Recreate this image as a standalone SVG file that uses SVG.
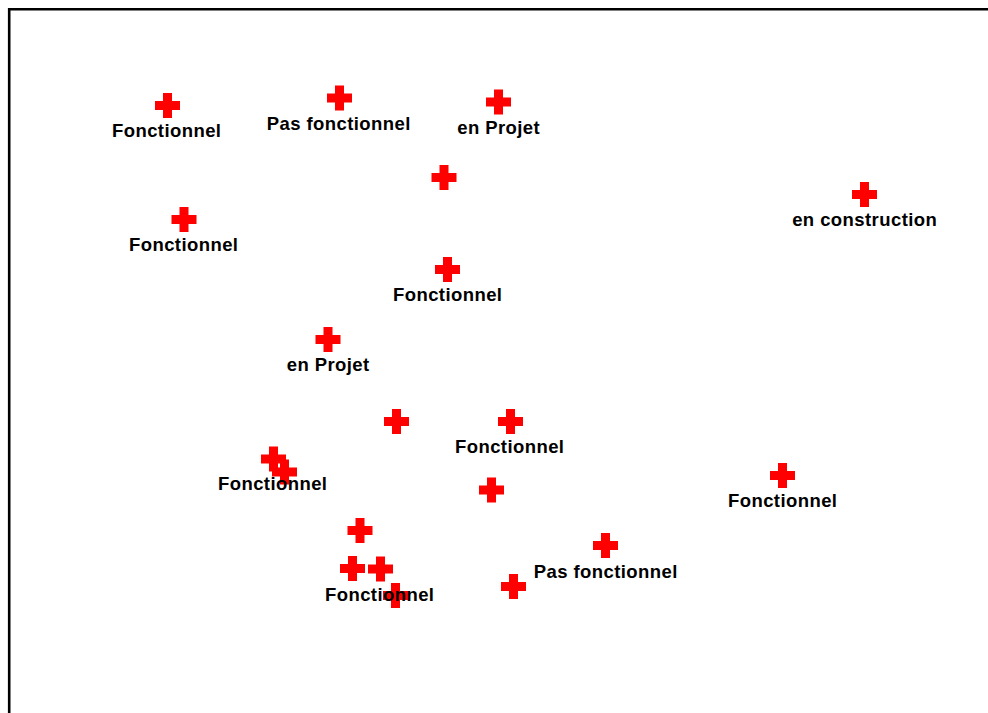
<svg xmlns="http://www.w3.org/2000/svg" xmlns:xlink="http://www.w3.org/1999/xlink" width="988" height="713" viewBox="0 0 988 713">
<style>
.x{fill:#ff0000}
.t{font-family:"Liberation Sans",Arial,sans-serif;font-weight:bold;font-size:18.5px;letter-spacing:0.42px;fill:#000;text-anchor:middle}
</style>
<defs>
<path id="c" d="M-4.5,-12.5H4.5V-4.5H12.5V4.5H4.5V12.5H-4.5V4.5H-12.5V-4.5H-4.5Z"/>
</defs>
<rect x="0" y="0" width="988" height="713" fill="#fff"/>
<path d="M9.2,713V9.2H988" fill="none" stroke="#000" stroke-width="2.6"/>
<g id="marks" class="x">
<use xlink:href="#c" x="167.5" y="105.5"/>
<use xlink:href="#c" x="339.5" y="98"/>
<use xlink:href="#c" x="498.5" y="102"/>
<use xlink:href="#c" x="444" y="177.5"/>
<use xlink:href="#c" x="864.5" y="194.5"/>
<use xlink:href="#c" x="184" y="219.5"/>
<use xlink:href="#c" x="447.5" y="269.5"/>
<use xlink:href="#c" x="328" y="339.5"/>
<use xlink:href="#c" x="396.5" y="421.5"/>
<use xlink:href="#c" x="510.5" y="421.5"/>
<use xlink:href="#c" x="273.5" y="459"/>
<use xlink:href="#c" x="284.5" y="472"/>
<use xlink:href="#c" x="491.5" y="490"/>
<use xlink:href="#c" x="782.5" y="475.5"/>
<use xlink:href="#c" x="360" y="530.5"/>
<use xlink:href="#c" x="605.5" y="545.5"/>
<use xlink:href="#c" x="352.5" y="568.5"/>
<use xlink:href="#c" x="380.5" y="569"/>
<use xlink:href="#c" x="395.5" y="595.5"/>
<use xlink:href="#c" x="513.5" y="586.5"/>
</g>
<g id="labels">
<text class="t" x="166.7" y="137">Fonctionnel</text>
<text class="t" x="338.7" y="130">Pas fonctionnel</text>
<text class="t" x="498.7" y="134">en Projet</text>
<text class="t" x="864.7" y="226">en construction</text>
<text class="t" x="183.7" y="251">Fonctionnel</text>
<text class="t" x="447.7" y="301">Fonctionnel</text>
<text class="t" x="328.2" y="371">en Projet</text>
<text class="t" x="509.7" y="453">Fonctionnel</text>
<text class="t" x="272.7" y="490">Fonctionnel</text>
<text class="t" x="782.7" y="507">Fonctionnel</text>
<text class="t" x="605.7" y="578">Pas fonctionnel</text>
<text class="t" x="379.7" y="601">Fonctionnel</text>
</g>
</svg>
